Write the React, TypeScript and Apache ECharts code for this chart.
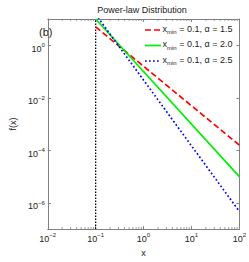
import React, { useEffect, useRef } from "react";
import * as echarts from "echarts";

const lineX = [0.1, 100];
const redValues = [5, 1.58e-4];
const greenValues = [10, 1e-5];
const blueValues = [15, 4.7e-7];
const alphaLabels = ["1.5", "2.0", "2.5"];
const xminValue = "0.1";
const xminMarker = 0.1;
const xRange = [0.01, 100];
const yRange = [1e-7, 10];
const minorTickX = [
  0.02, 0.03, 0.04, 0.05, 0.06, 0.07, 0.08, 0.09,
  0.2, 0.3, 0.4, 0.5, 0.6, 0.7, 0.8, 0.9,
  2, 3, 4, 5, 6, 7, 8, 9,
  20, 30, 40, 50, 60, 70, 80, 90,
];

const FONT = "Liberation Sans, Arial, sans-serif";
const AXIS_COLOR = "#808080";
const TEXT = "#222";
const COLORS = ["#ff0000", "#00ee00", "#0000ff"];
const DASHES: any[] = [[6, 3], null, [1.7, 2.3]];

const seriesNames = alphaLabels.map((a) => `x_min = ${xminValue}, α = ${a}`);

const supLabel = (v: number) => {
  const e = Math.round(Math.log10(v));
  const es = e < 0 ? "−" + Math.abs(e) : String(e);
  return `{b|10}{s|${es}}`;
};

const supRich = {
  b: { fontSize: 9, fontFamily: FONT, color: TEXT, verticalAlign: "bottom" as const, lineHeight: 12 },
  s: { fontSize: 6, fontFamily: FONT, color: TEXT, verticalAlign: "bottom" as const, lineHeight: 12, padding: [0, 0, 5, 0] },
};

export default function App() {
  const ref = useRef<HTMLDivElement>(null);
  useEffect(() => {
    if (!ref.current) return;
    const chart = echarts.init(ref.current, null, { renderer: "svg" });
    const mk = (ys: number[]) => lineX.map((x, i) => [x, ys[i]]);
    const legendRowsY = [30, 45.5, 61];
    const legendGraphics: any[] = [];
    seriesNames.forEach((name, i) => {
      const y = legendRowsY[i];
      legendGraphics.push({
        type: "line",
        shape: { x1: 145, y1: y, x2: 161, y2: y },
        style: { stroke: COLORS[i], lineWidth: 1.7, lineDash: DASHES[i] || undefined },
        z: 10,
      });
      legendGraphics.push({
        type: "text",
        x: 162.5,
        y: y,
        style: {
          text: `{x|x}{s|min}{t| = ${xminValue}, α = ${alphaLabels[i]}}`,
          verticalAlign: "middle",
          rich: {
            x: { fontSize: 9, fontFamily: FONT, fill: TEXT, verticalAlign: "bottom", lineHeight: 10, padding: [0, 0, 2, 0] },
            t: { fontSize: 9, fontFamily: FONT, fill: TEXT, verticalAlign: "bottom", lineHeight: 10, padding: [0, 0, 2, 0] },
            s: { fontSize: 6, fontFamily: FONT, fill: TEXT, verticalAlign: "bottom", lineHeight: 7 },
          },
        },
        z: 10,
      });
    });
    chart.setOption({
      animation: false,
      backgroundColor: "#fff",
      title: {
        text: "Power-law Distribution",
        left: 137,
        textAlign: "center",
        top: 0,
        textStyle: { fontSize: 9, fontWeight: "normal", fontFamily: FONT, color: TEXT },
      },
      grid: { left: 33, right: 8.5, top: 19, bottom: 26.5 },
      xAxis: [
        {
          type: "log",
          logBase: 10,
          min: xRange[0],
          max: xRange[1],
          name: "x",
          nameLocation: "middle",
          nameGap: 18,
          nameTextStyle: { fontSize: 9, fontFamily: FONT, color: TEXT },
          axisLine: { show: true, lineStyle: { color: AXIS_COLOR, width: 1 } },
          axisTick: { show: true, inside: true, length: 3, lineStyle: { color: AXIS_COLOR } },
          axisLabel: { formatter: supLabel, rich: supRich, margin: 2 },
          splitLine: { show: false },
        },
        {
          type: "log",
          logBase: 10,
          position: "top",
          min: xRange[0],
          max: xRange[1],
          axisLine: { show: true, lineStyle: { color: AXIS_COLOR, width: 1 } },
          axisTick: { show: true, inside: true, length: 3, lineStyle: { color: AXIS_COLOR } },
          axisLabel: { show: false },
          splitLine: { show: false },
        },
      ],
      yAxis: [
        {
          type: "log",
          logBase: 100,
          min: yRange[0],
          max: yRange[1],
          name: "f(x)",
          nameLocation: "middle",
          nameRotate: 90,
          nameGap: 21,
          nameTextStyle: { fontSize: 9, fontFamily: FONT, color: TEXT },
          axisLine: { show: true, lineStyle: { color: AXIS_COLOR, width: 1 } },
          axisTick: { show: true, inside: true, length: 3, lineStyle: { color: AXIS_COLOR } },
          axisLabel: {
            formatter: supLabel,
            rich: supRich,
            margin: 3,
            padding: [4, 0, 0, 0],
            showMinLabel: false,
            showMaxLabel: false,
          },
          splitLine: { show: false },
        },
        {
          type: "log",
          logBase: 100,
          position: "right",
          min: yRange[0],
          max: yRange[1],
          axisLine: { show: true, lineStyle: { color: AXIS_COLOR, width: 1 } },
          axisTick: { show: true, inside: true, length: 3, lineStyle: { color: AXIS_COLOR } },
          axisLabel: { show: false },
          splitLine: { show: false },
        },
      ],
      series: [
        {
          name: "xmin-marker",
          type: "line",
          data: [[xminMarker, yRange[0]], [xminMarker, yRange[1]]],
          symbol: "none",
          lineStyle: { color: "#000", width: 1.3, type: [1.5, 1.5] },
          silent: true,
          z: 1,
        },
        ...[redValues, greenValues, blueValues].map((vals, i) => ({
          name: seriesNames[i],
          type: "line",
          data: mk(vals),
          symbol: "none",
          clip: true,
          lineStyle: { color: COLORS[i], width: 1.7, type: DASHES[i] || "solid" },
          itemStyle: { color: COLORS[i] },
          z: 3,
        })),
        {
          name: "minor-ticks",
          type: "custom",
          silent: true,
          data: minorTickX.map((x) => [x]),
          renderItem: (params: any, api: any) => {
            const x = api.value(0);
            const b = api.coord([x, yRange[0]]);
            const t = api.coord([x, yRange[1]]);
            const style = { stroke: AXIS_COLOR, lineWidth: 0.8 };
            return {
              type: "group",
              children: [
                { type: "line", shape: { x1: b[0], y1: b[1], x2: b[0], y2: b[1] - 2 }, style },
                { type: "line", shape: { x1: t[0], y1: t[1], x2: t[0], y2: t[1] + 2 }, style },
              ],
            };
          },
          z: 2,
        },
      ],
      graphic: [
        {
          type: "text",
          left: 39,
          top: 26,
          style: { text: "(b)", fontSize: 11, fontFamily: FONT, fill: TEXT },
        },
        ...legendGraphics,
      ],
    });
    return () => chart.dispose();
  }, []);
  return <div ref={ref} style={{ width: 249, height: 262, position: "absolute", left: 0, top: 0 }} />;
}
